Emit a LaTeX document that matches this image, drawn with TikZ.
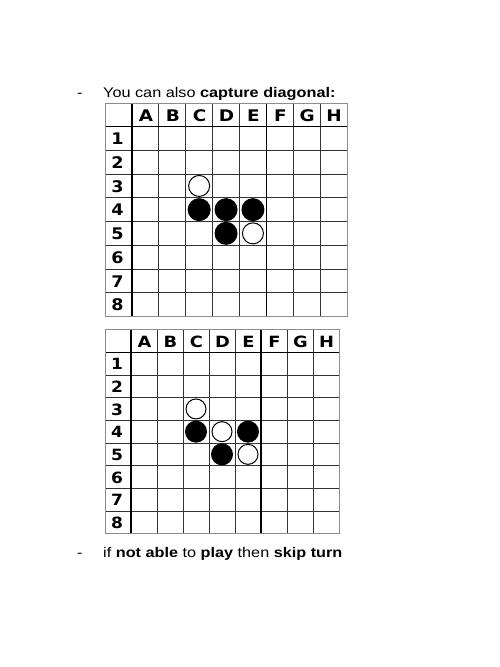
\documentclass[tikz,border=0pt]{standalone}
\usepackage{graphicx}
\usepackage{fontspec}
\setmainfont{Liberation Sans}
\newfontfamily\heavyfont{DejaVu Sans}
\newcommand{\wide}[2]{\scalebox{#1}[1]{#2}}
\begin{document}
\begin{tikzpicture}[x=1pt,y=-1pt,
  txt/.style={inner sep=0pt,anchor=base west,font=\fontsize{14}{16}\selectfont},
  hdr/.style={inner sep=0pt,font=\fontsize{16}{16}\selectfont\heavyfont\bfseries},
  hdrb/.style={inner sep=0pt,font=\fontsize{15.5}{15.5}\selectfont\heavyfont\bfseries},
  gridline/.style={draw=black!80,line width=0.8pt},
  sepline/.style={draw=black,line width=1.3pt},
  outerline/.style={draw=black!45,line width=1pt},
  wpiece/.style={draw=black,line width=1pt,fill=white},
  bpiece/.style={fill=black}]
\useasboundingbox[fill=white] (0,0) rectangle (500,667);
% text lines
\node[txt] (d1) at (77,97) {\wide{1.16}{-}};
\node[txt] (t1) at (103,97) {\wide{1.16}{You can also \textbf{capture diagonal:}}};
\node[txt] (d2) at (77,557) {\wide{1.16}{-}};
\node[txt] (t2) at (103,557) {\wide{1.16}{if \textbf{not able} to \textbf{play} then \textbf{skip turn}}};
% top board
\begin{scope}[shift={(105pt,-103pt)},x=26.9pt,y=-23.7pt]
  \foreach \i in {2,...,8} \draw[gridline] (\i,0) -- (\i,9);
  \foreach \j in {2,...,8} \draw[gridline] (0,\j) -- (9,\j);
  \draw[sepline] (1,0) -- (1,9);
  \draw[sepline] (0,1) -- (9,1);
  \draw[sepline] (6,0) -- (6,9);
  \draw[outerline] (0,0) rectangle (9,9);
  \foreach \L [count=\k] in {A,B,C,D,E,F,G,H} \node[hdr] (ta\k) at (\k+0.52,0.55) {\wide{1.15}{\L}};
  \foreach \n in {1,...,8} \node[hdr] (tn\n) at (0.46,\n+0.52) {\wide{1.1}{\n}};
  \draw[wpiece] (3.5,3.5) circle (10.5pt);
  \fill[bpiece] (3.5,4.5) circle (11.5pt);
  \fill[bpiece] (4.5,4.5) circle (11.5pt);
  \fill[bpiece] (5.5,4.5) circle (11.5pt);
  \fill[bpiece] (4.5,5.5) circle (11.5pt);
  \draw[wpiece] (5.5,5.5) circle (10.5pt);
\end{scope}
% bottom board
\begin{scope}[shift={(105pt,-329.5pt)},x=26pt,y=-22.7pt]
  \foreach \i in {2,...,8} \draw[gridline] (\i,0) -- (\i,9);
  \foreach \j in {2,...,8} \draw[gridline] (0,\j) -- (9,\j);
  \draw[sepline] (1,0) -- (1,9);
  \draw[sepline] (0,1) -- (9,1);
  \draw[sepline] (6,0) -- (6,9);
  \draw[outerline] (0,0) rectangle (9,9);
  \foreach \L [count=\k] in {A,B,C,D,E,F,G,H} \node[hdrb] (ba\k) at (\k+0.52,0.55) {\wide{1.15}{\L}};
  \foreach \n in {1,...,8} \node[hdrb] (bn\n) at (0.46,\n+0.52) {\wide{1.1}{\n}};
  \draw[wpiece] (3.5,3.5) circle (10pt);
  \fill[bpiece] (3.5,4.5) circle (11pt);
  \draw[wpiece] (4.5,4.5) circle (10pt);
  \fill[bpiece] (5.5,4.5) circle (11pt);
  \fill[bpiece] (4.5,5.5) circle (11pt);
  \draw[wpiece] (5.5,5.5) circle (10pt);
\end{scope}
\end{tikzpicture}
\end{document}
